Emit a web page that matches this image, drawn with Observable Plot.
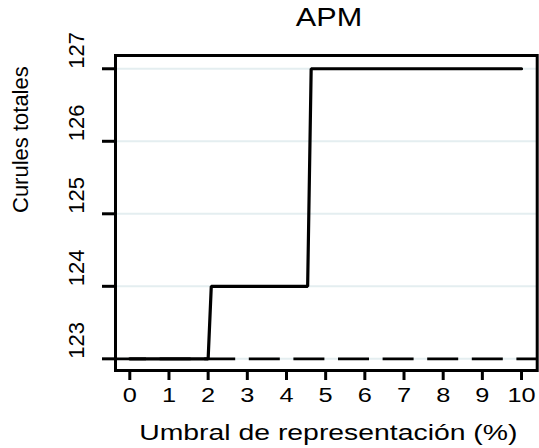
<!DOCTYPE html>
<html>
<head>
<meta charset="utf-8">
<script src="https://cdn.jsdelivr.net/npm/d3@7"></script>
<script src="https://cdn.jsdelivr.net/npm/@observablehq/plot@0.6"></script>
<style>
  html, body { margin: 0; padding: 0; background: white; }
  #title { position: relative; height: 40px; width: 539px; }
  #title span { position: absolute; left: 329px; top: 5px; display: block; white-space: nowrap;
    font: 25.5px "Liberation Sans", Arial, sans-serif; line-height: 1; color: black;
    transform: translateX(-50%) scaleX(1.2); }
</style>
</head>
<body>
<div id="title"><span>APM</span></div>
<div id="chart"></div>
<script>
// ---- data ----
const titleText = "APM";
const xLabel = "Umbral de representación (%)";
const yLabel = "Curules totales";
const xTicks = [0, 1, 2, 3, 4, 5, 6, 7, 8, 9, 10];
const yTicks = [123, 124, 125, 126, 127];
const stepX = [0, 2, 2.08, 4.54, 4.63, 10];
const stepY = [123, 123, 124, 124, 127, 127];
const referenceLevel = [123];

document.querySelector("#title span").textContent = titleText;
const steps = stepX.map((x, i) => ({x, y: stepY[i]}));
const FONT = "Liberation Sans, Arial, sans-serif";

const plot = Plot.plot({
  width: 539,
  height: 408,
  marginTop: 15,
  marginBottom: 78,
  marginLeft: 115,
  marginRight: 2.3,
  style: {background: "white", color: "black", fontFamily: FONT, overflow: "visible"},
  x: {domain: [-0.365, 10.40], axis: null},
  y: {domain: [122.839, 127.183], axis: null},
  marks: [
    Plot.ruleY(yTicks, {stroke: "#e4eef0", strokeWidth: 2}),
    Plot.ruleY(referenceLevel, {stroke: "black", strokeWidth: 2.6, strokeDasharray: "31,13.6"}),
    Plot.line(steps, {x: "x", y: "y", stroke: "black", strokeWidth: 3.2, strokeLinejoin: "miter"}),
    Plot.frame({stroke: "black", strokeWidth: 3}),
    Plot.axisX({ticks: xTicks, tickSize: 10, strokeWidth: 3, tickFormat: () => "", label: null}),
    Plot.axisY({ticks: yTicks, tickSize: 13, strokeWidth: 3, tickFormat: () => "", label: null}),
    Plot.text(xTicks, {x: d => d, text: d => String(d), frameAnchor: "bottom", lineAnchor: "bottom",
      dy: 31.5, fontSize: 19.5, fontFamily: FONT, fill: "black"}),
    Plot.text([xLabel], {text: d => d, frameAnchor: "bottom", lineAnchor: "bottom",
      dy: 69.5, dx: 2, fontSize: 21.5, fontFamily: FONT, fill: "black"}),
    Plot.text(yTicks, {y: d => d, text: d => String(d), frameAnchor: "left", rotate: -90, lineAnchor: "bottom",
      dx: -31.7, fontSize: 22, fontFamily: FONT, fill: "black"}),
    Plot.text([yLabel], {text: d => d, frameAnchor: "left", rotate: -90, lineAnchor: "bottom",
      dx: -88, fontSize: 22, fontFamily: FONT, fill: "black"})
  ]
});

// widen horizontal texts (the reference glyphs are horizontally stretched)
const xTickSet = new Set(xTicks.map(String));
plot.querySelectorAll("text").forEach(t => {
  const s = t.textContent;
  let sx = null;
  if (xTickSet.has(s)) sx = 1.3;
  else if (s === xLabel) sx = 1.32;
  if (sx == null) return;
  const tr = t.getAttribute("transform");
  if (tr) {
    t.setAttribute("transform", `${tr} scale(${sx},1)`);
  } else {
    const x = +t.getAttribute("x") || 0, y = +t.getAttribute("y") || 0;
    t.removeAttribute("x"); t.removeAttribute("y");
    t.setAttribute("transform", `translate(${x},${y}) scale(${sx},1)`);
  }
});

document.getElementById("chart").appendChild(plot);
</script>
</body>
</html>
